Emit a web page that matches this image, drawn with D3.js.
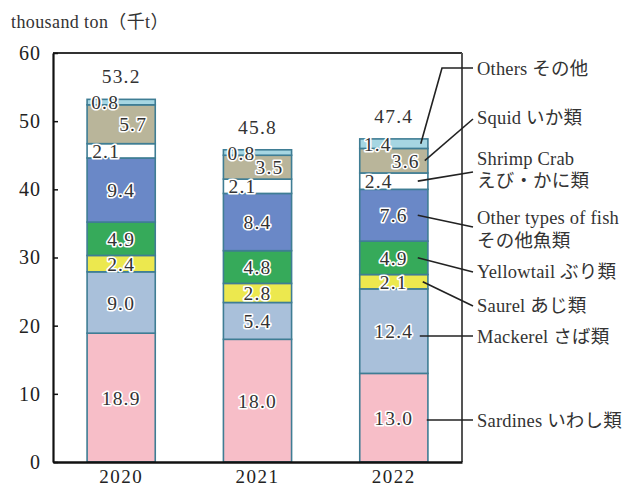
<!DOCTYPE html>
<html><head><meta charset="utf-8">
<script src="https://cdn.jsdelivr.net/npm/d3@7"></script>
<style>
html,body{margin:0;padding:0;background:#fff;}
svg{display:block;}
</style></head>
<body>
<svg id="chart" width="633" height="487"></svg>
<script>
const years = ["2020", "2021", "2022"];
const seriesKeys = ["sardines", "mackerel", "saurel", "yellowtail", "otherFish", "shrimpCrab", "squid", "others"];
const sardines   = [18.9, 18.0, 13.0];
const mackerel   = [9.0, 5.4, 12.4];
const saurel     = [2.4, 2.8, 2.1];
const yellowtail = [4.9, 4.8, 4.9];
const otherFish  = [9.4, 8.4, 7.6];
const shrimpCrab = [2.1, 2.1, 2.4];
const squid      = [5.7, 3.5, 3.6];
const others     = [0.8, 0.8, 1.4];
const totals     = [53.2, 45.8, 47.4];
const legendLabels = [
  ["Sardines いわし類"],
  ["Mackerel さば類"],
  ["Saurel あじ類"],
  ["Yellowtail ぶり類"],
  ["Other types of fish", "その他魚類"],
  ["Shrimp Crab", "えび・かに類"],
  ["Squid いか類"],
  ["Others その他"]
];
const yTicks = [0, 10, 20, 30, 40, 50, 60];
const yTitle = "thousand ton（千t）";

const seriesValues = {sardines, mackerel, saurel, yellowtail, otherFish, shrimpCrab, squid, others};
const colors = {
  sardines: "#f7bec8", mackerel: "#a9c0da", saurel: "#ece84e", yellowtail: "#36aa5a",
  otherFish: "#6a88c7", shrimpCrab: "#ffffff", squid: "#b9b59a", others: "#a6d6e2"
};
const labelDx = {others: -16, squid: 12, shrimpCrab: -15};

const rows = years.map((yr, i) => {
  const r = {year: yr};
  seriesKeys.forEach(k => r[k] = seriesValues[k][i]);
  return r;
});
const stacked = d3.stack().keys(seriesKeys)(rows);

const svg = d3.select("#chart");
const mLeft = 53, mRight = 462, mTop = 53, mBottom = 462;
const x = d3.scaleBand().domain(years).range([mLeft, mRight]).paddingInner(0.5).paddingOuter(0.25);
const y = d3.scaleLinear().domain([0, 60]).range([mBottom, mTop]);

const numFont = "'Liberation Serif', 'Noto Sans CJK JP', serif";
const lblFont = "'Liberation Serif', 'Noto Sans CJK JP', serif";

svg.append("line").attr("x1", mLeft).attr("x2", mRight).attr("y1", mTop).attr("y2", mTop)
  .attr("stroke", "#333").attr("stroke-width", 2);
svg.append("line").attr("x1", mRight).attr("x2", mRight).attr("y1", mTop).attr("y2", mBottom)
  .attr("stroke", "#555").attr("stroke-width", 2);

const stroke = "#3f7d94";
stacked.forEach(s => {
  svg.append("g").selectAll("rect").data(s).join("rect")
    .attr("x", d => x(d.data.year))
    .attr("width", x.bandwidth())
    .attr("y", d => y(d[1]))
    .attr("height", d => y(d[0]) - y(d[1]))
    .attr("fill", colors[s.key])
    .attr("stroke", stroke).attr("stroke-width", 1.6);
});

const yAxis = d3.axisLeft(y).tickValues(yTicks).tickSize(-5).tickPadding(12).tickSizeOuter(0);
const gy = svg.append("g").attr("transform", `translate(${mLeft},0)`).call(yAxis);
gy.select(".domain").attr("stroke", "#111").attr("stroke-width", 2.2);
gy.selectAll(".tick line").attr("stroke", "#111").attr("stroke-width", 1.5);
gy.selectAll(".tick text").attr("font-family", numFont).attr("font-size", 20)
  .attr("letter-spacing", 1).attr("fill", "#222");

const xAxis = d3.axisBottom(x).tickSize(0).tickPadding(8).tickSizeOuter(0);
const gx = svg.append("g").attr("transform", `translate(0,${mBottom})`).call(xAxis);
gx.select(".domain").attr("stroke", "#111").attr("stroke-width", 2.4);
gx.selectAll(".tick text").attr("font-family", numFont).attr("font-size", 19)
  .attr("letter-spacing", 1.5).attr("fill", "#222");

const labG = svg.append("g");
stacked.forEach(s => {
  s.forEach(d => {
    const val = d[1] - d[0];
    const cx = x(d.data.year) + x.bandwidth() / 2 + (labelDx[s.key] || 0);
    const cy = y((d[0] + d[1]) / 2);
    const txt = val.toFixed(1);
    [true, false].forEach(halo => {
      labG.append("text").attr("x", cx).attr("y", cy).attr("dy", "0.36em")
        .attr("text-anchor", "middle").attr("font-family", numFont).attr("font-size", 19.5)
        .attr("letter-spacing", 1.2)
        .attr("fill", "#333")
        .attr("stroke", halo ? "#fff" : "none").attr("stroke-width", halo ? 3.2 : 0)
        .attr("stroke-linejoin", "round")
        .text(txt);
    });
  });
});

svg.append("g").selectAll("text").data(totals).join("text")
  .attr("x", (d, i) => x(years[i]) + x.bandwidth() / 2)
  .attr("y", d => y(d) - 16)
  .attr("text-anchor", "middle").attr("font-family", numFont).attr("font-size", 19.5)
  .attr("letter-spacing", 1.2).attr("fill", "#333")
  .text(d => d.toFixed(1));

svg.append("text").attr("x", 11).attr("y", 28).attr("font-family", lblFont).attr("font-size", 18)
  .attr("letter-spacing", 0.4).attr("fill", "#333").text(yTitle);

const lastIdx = years.length - 1;
const barX = x(years[lastIdx]);
const legX = 477;
const legendY = {sardines: [420], mackerel: [336], saurel: [305], yellowtail: [271],
  otherFish: [217, 240], shrimpCrab: [158, 180], squid: [117], others: [68]};
const lineEnd = {sardines: 420, mackerel: 336, saurel: 306, yellowtail: 272,
  otherFish: 227, shrimpCrab: 172, squid: 119, others: 68};
const startDx = {sardines: 67, mackerel: 60, saurel: 63, yellowtail: 58,
  otherFish: 58, shrimpCrab: 58, squid: 65, others: 61};
const lg = svg.append("g");
stacked.forEach((s, si) => {
  const d = s[lastIdx];
  const k = s.key;
  let sy = y((d[0] + d[1]) / 2);
  if (k === "sardines" || k === "mackerel") sy = lineEnd[k];
  const sx = barX + startDx[k];
  if (k === "others") {
    lg.append("path").attr("d", `M${sx},${sy}L442,${lineEnd[k]}L473,${lineEnd[k]}`)
      .attr("fill", "none").attr("stroke", "#222").attr("stroke-width", 1.6);
  } else {
    lg.append("line").attr("x1", sx).attr("y1", sy).attr("x2", 473).attr("y2", lineEnd[k])
      .attr("stroke", "#222").attr("stroke-width", 1.6);
  }
  legendLabels[si].forEach((t, li) => {
    lg.append("text").attr("x", legX).attr("y", legendY[k][li]).attr("dy", "0.36em")
      .attr("font-family", lblFont).attr("font-size", 18.5).attr("letter-spacing", 0.2)
      .attr("fill", "#333").text(t);
  });
});
</script>
</body></html>
